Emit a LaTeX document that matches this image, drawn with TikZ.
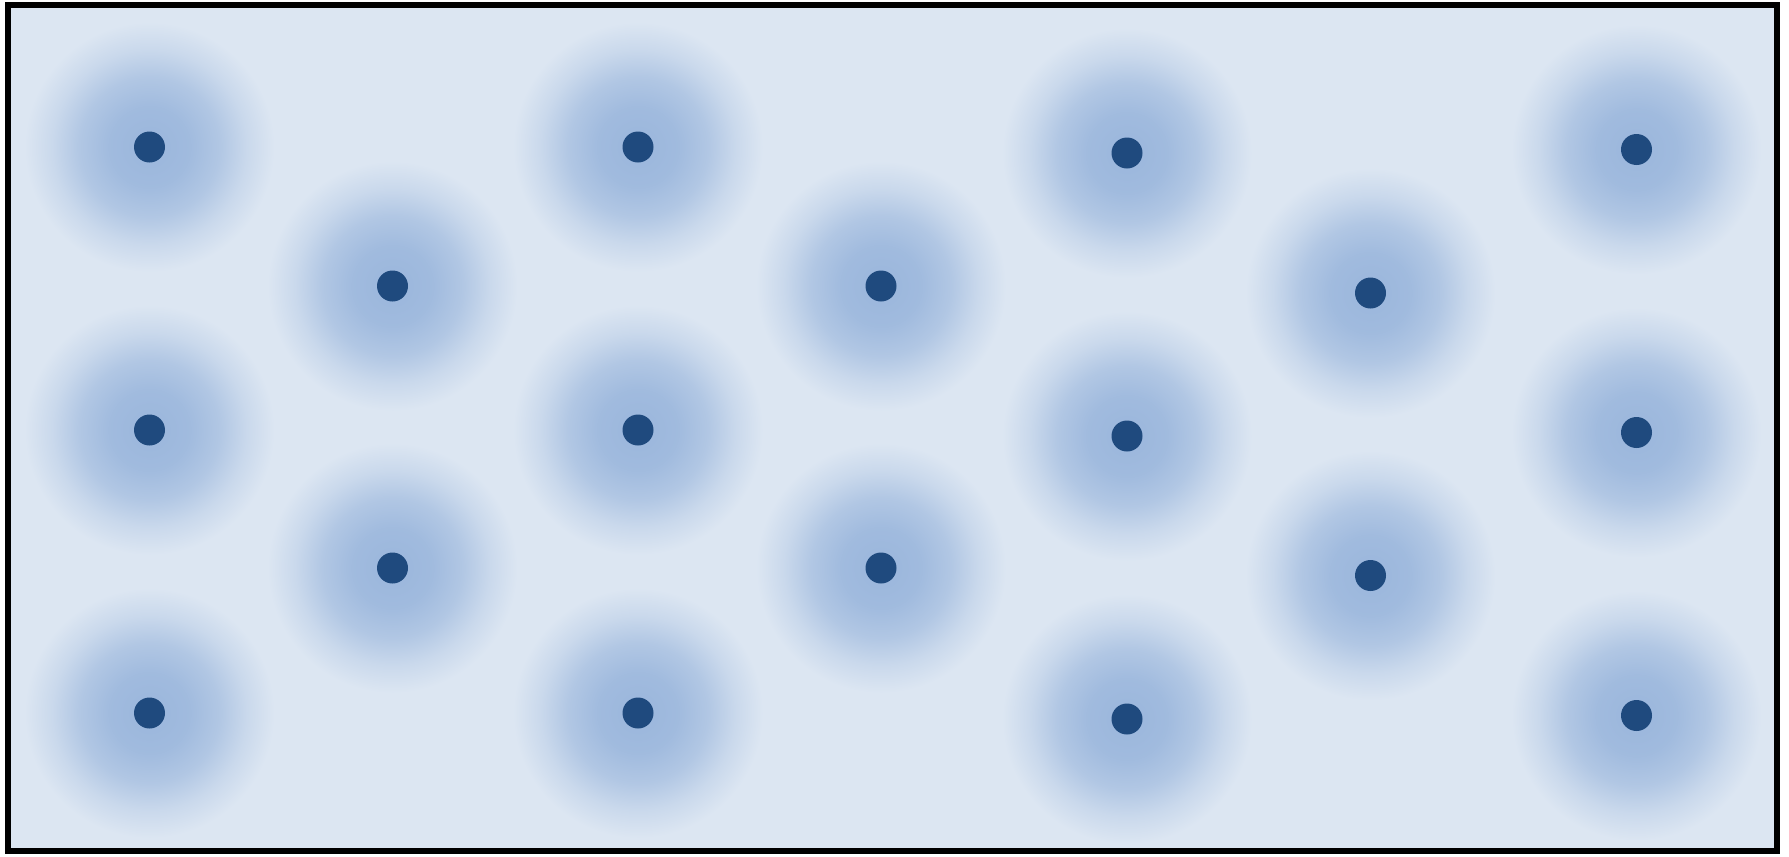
\documentclass[tikz,border=0pt]{standalone}
\usetikzlibrary{shadings}
\definecolor{bg}{RGB}{220,230,242}
\definecolor{haloc}{RGB}{154,182,220}
\definecolor{dotc}{RGB}{31,74,126}
\colorlet{halohi}{haloc!90!bg}
\colorlet{halomid}{haloc!65!bg}
\colorlet{halolow}{haloc!28!bg}
\pgfdeclareradialshading{halo}{\pgfpoint{0bp}{0bp}}{color(0bp)=(haloc); color(8bp)=(halohi); color(14bp)=(halomid); color(19.5bp)=(halolow); color(25bp)=(bg); color(50bp)=(bg)}
\tikzset{
  dotnode/.style={circle, fill=dotc, draw=none, minimum size=31pt, inner sep=0pt},
  frame/.style={draw=black, line width=6pt},
}
\begin{document}
\begin{tikzpicture}[x=1pt,y=-1pt]
\useasboundingbox (0,0) rectangle (1789,857);
\fill[white] (0,0) rectangle (1789,857);
\fill[bg] (8,5) rectangle (1777,851);
\begin{scope}
\clip (8,5) rectangle (1777,851);
\foreach \x/\y [count=\i] in {
  149.5/147, 149.5/430, 149.5/713,
  392.5/286, 392.5/568,
  638/147, 638/430, 638/713,
  881/286, 881/568,
  1127/153, 1127/436, 1127/719,
  1370.5/293, 1370.5/575.5,
  1636.5/149.5, 1636.5/432.5, 1636.5/715.5}{
  \shade[shading=halo] (\x,\y) circle (125);
  \node[dotnode] (d\i) at (\x,\y) {};
}
\end{scope}
\draw[frame] (8,5) rectangle (1777,851);
\end{tikzpicture}
\end{document}
